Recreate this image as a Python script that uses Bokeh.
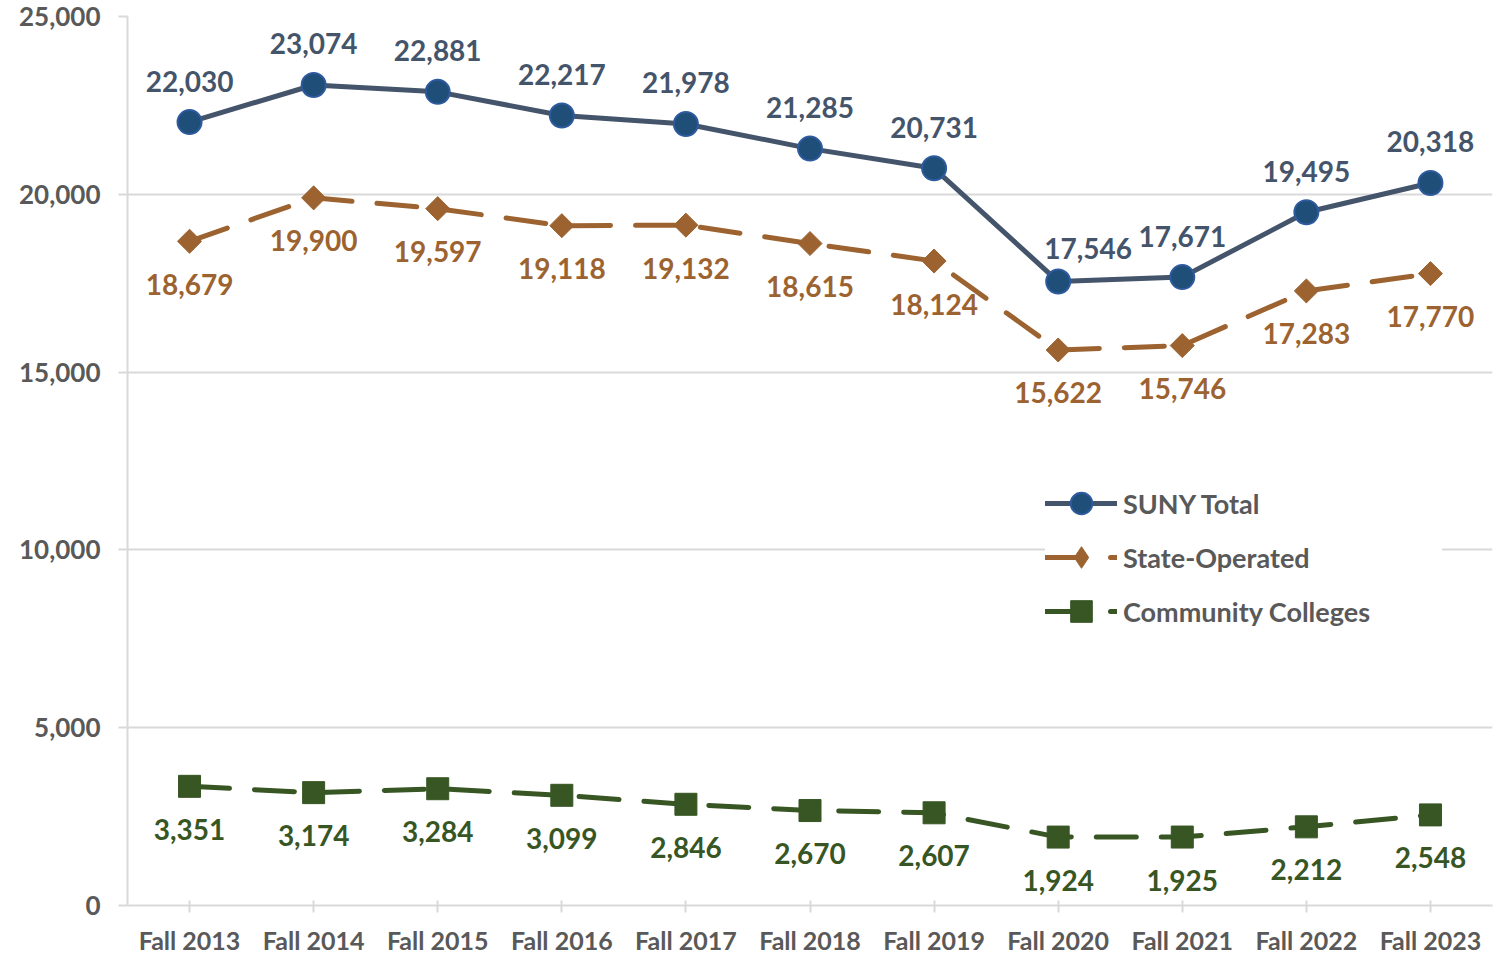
from bokeh.plotting import figure
from bokeh.models import ColumnDataSource, NumeralTickFormatter, Legend, LegendItem, FixedTicker
from bokeh.core.properties import value
from bokeh.embed import file_html
from bokeh.resources import INLINE
import numpy as np

# ---- data ----
years = ["Fall 2013", "Fall 2014", "Fall 2015", "Fall 2016", "Fall 2017", "Fall 2018",
         "Fall 2019", "Fall 2020", "Fall 2021", "Fall 2022", "Fall 2023"]
suny_total = [22030, 23074, 22881, 22217, 21978, 21285, 20731, 17546, 17671, 19495, 20318]
state_operated = [18679, 19900, 19597, 19118, 19132, 18615, 18124, 15622, 15746, 17283, 17770]
community_colleges = [3351, 3174, 3284, 3099, 2846, 2670, 2607, 1924, 1925, 2212, 2548]
y_ticks = [0, 5000, 10000, 15000, 20000, 25000]

# ---- label placement (style) ----
suny_dx = [0, 0, 0, 0, 0, 0, 0, 30, 0, 0, 0]
suny_dy = [-41, -41, -41, -41, -41, -41, -41, -33, -41, -41, -41]

FONT = "Lato"
C_SUNY_LINE = "#44546A"
C_SUNY_FILL = "#1F4E79"
C_SUNY_EDGE = "#2E5A9E"
C_STATE = "#9C6330"
C_CC = "#375623"
C_TEXT = "#595959"
C_GRID = "#D9D9D9"

def fmt(v):
    return [f"{x:,}" for x in v]

src_s = ColumnDataSource(dict(x=years, y=suny_total, t=fmt(suny_total), dx=suny_dx, dy=suny_dy))
src_o = ColumnDataSource(dict(x=years, y=state_operated, t=fmt(state_operated)))
src_c = ColumnDataSource(dict(x=years, y=community_colleges, t=fmt(community_colleges)))

p = figure(x_range=years, y_range=(0, 25000), width=1504, height=957,
           output_backend="svg", toolbar_location=None,
           min_border_left=127, min_border_right=12, min_border_top=16, min_border_bottom=52)
p.x_range.range_padding = 0
p.outline_line_color = None
p.background_fill_color = "white"
p.border_fill_color = "white"

# grid
p.xgrid.grid_line_color = None
p.ygrid.grid_line_color = C_GRID
p.ygrid.grid_line_width = 2
p.yaxis.ticker = FixedTicker(ticks=y_ticks)
p.yaxis.formatter = NumeralTickFormatter(format="0,0")

for ax in (p.xaxis, p.yaxis):
    ax.axis_line_color = C_GRID
    ax.axis_line_width = 2
    ax.major_tick_line_color = C_GRID
    ax.major_tick_line_width = 2
    ax.minor_tick_line_color = None
    ax.major_label_text_font = FONT
    ax.major_label_text_font_style = "bold"
    ax.major_label_text_color = C_TEXT

p.yaxis.major_tick_in = 0
p.yaxis.major_tick_out = 9
p.yaxis.major_label_standoff = 18
p.yaxis.major_label_text_font_size = "26px"

p.xaxis.major_tick_in = 5
p.xaxis.major_tick_out = 7
p.xaxis.major_label_standoff = 12
p.xaxis.major_label_text_font_size = "25px"

# series
l_s = p.line("x", "y", source=src_s, line_color=C_SUNY_LINE, line_width=5, line_cap="round", line_join="round")
m_s = p.scatter("x", "y", source=src_s, marker="circle", size=24, fill_color=C_SUNY_FILL,
                line_color=C_SUNY_EDGE, line_width=2)

l_o = p.line("x", "y", source=src_o, line_color=C_STATE, line_width=5, line_dash="40 25",
             line_cap="round", line_join="round")
# legend icon diamond, drawn under the rotated-square markers (hidden behind them)
k_o = p.scatter("x", "y", source=src_o, marker="diamond", size=14,
                fill_color=C_STATE, line_color=C_STATE, line_width=1)
m_o = p.scatter("x", "y", source=src_o, marker="square", angle=np.pi / 4, size=17,
                fill_color=C_STATE, line_color=C_STATE, line_width=1)

l_c = p.line("x", "y", source=src_c, line_color=C_CC, line_width=5, line_dash="40 25",
             line_cap="round", line_join="round")
m_c = p.scatter("x", "y", source=src_c, marker="square", size=22,
                fill_color=C_CC, line_color=C_CC, line_width=1)

# data labels
p.text("x", "y", text="t", source=src_s, x_offset="dx", y_offset="dy",
       text_font=value(FONT), text_font_style="bold", text_font_size="28px",
       text_color=C_SUNY_LINE, text_align="center", text_baseline="middle")
p.text("x", "y", text="t", source=src_o, y_offset=43,
       text_font=value(FONT), text_font_style="bold", text_font_size="28px",
       text_color=C_STATE, text_align="center", text_baseline="middle")
p.text("x", "y", text="t", source=src_c, y_offset=43,
       text_font=value(FONT), text_font_style="bold", text_font_size="28px",
       text_color=C_CC, text_align="center", text_baseline="middle")

legend = Legend(items=[
    LegendItem(label="SUNY Total", renderers=[l_s, m_s]),
    LegendItem(label="State-Operated", renderers=[l_o, k_o]),
    LegendItem(label="Community Colleges", renderers=[l_c, m_c]),
], location=(918, 267))
legend.glyph_width = 72
legend.glyph_height = 54
legend.label_height = 54
legend.label_width = 319
legend.label_standoff = 6
legend.spacing = 0
legend.padding = 0
legend.margin = 0
legend.border_line_color = None
legend.background_fill_color = "white"
legend.background_fill_alpha = 1
legend.label_text_font = FONT
legend.label_text_font_style = "bold"
legend.label_text_font_size = "27px"
legend.label_text_color = C_TEXT
p.add_layout(legend, "center")

open("out.html", "w").write(file_html(p, INLINE))
